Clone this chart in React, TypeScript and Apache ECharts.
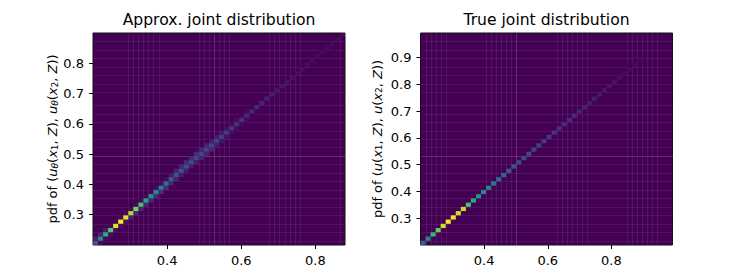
import React, { useEffect, useRef } from "react";
import * as echarts from "echarts";

const BIN_COUNT = 50;
const approxDiag = [.25,.45,.62,.74,.95,1,.95,.87,.8,.7,.6,.5,.47,.42,.36,.3,.27,.25,.25,.24,.22,.2,.2,.2,.19,.18,.17,.15,.14,.13,.12,.11,.11,.09,.08,.07,.06,.06,.05,.05,.04,.04,.04,.035,.03,.03,.03,.03,.03,.02];
const approxLower = [.02,.03,.04,.04,.04,.05,.08,.1,.1,.1,.1,.12,.13,.13,.1,.09,.07,.07,.07,.08,.1,.1,.1,.07,.05,.04,.03,.03,.02,.02,.01,.01];
const approxUpper = [.08,.1,.08,.03,.02,.02,.02,.02,.02,.02,.02,.02,.03,.03,.03,.07,.1,.1,.12,.12,.12,.1,.1,.08,.08,.07,.04,.03,.03,.02,.02,.01];
const trueDiag = [.3,.45,.65,.78,.93,1,.98,.92,.9,.7,.62,.5,.47,.43,.38,.35,.32,.28,.26,.23,.22,.2,.19,.18,.17,.16,.15,.14,.13,.12,.11,.1,.09,.08,.08,.07,.06,.05,.05,.04,.03,.03,.02,.02];
const viridis = ["#440154","#482475","#414487","#355f8d","#2a788e","#21918c","#22a884","#44bf70","#7ad151","#bddf26","#fde725"];

const approxSeamX = [7,8,9,10,11,12,13,21,22,23,24,25,26,27,35,36,37,38,39,40,41,49];
const trueSeamX = [1,2,3,4,5,13,14,15,16,17,18,19,27,28,29,30,31,32,33,41,42,43,44,45,46,47];
const seamY = [1,3,5,7,9,11,13,15,17,19,21,23,25,27,29,31,33,36,38,40,42,44,46,48];
const approxStrongX = 24;
const trueStrongX = 19;
const strongY = 21;

const approxRange = { xMin: 0.2, xMax: 0.88, yMin: 0.2, yMax: 0.9 };
const trueRange = { xMin: 0.2, xMax: 0.992, yMin: 0.2, yMax: 0.992 };
const approxXTicks = [0.4, 0.6, 0.8];
const approxYTicks = [0.3, 0.4, 0.5, 0.6, 0.7, 0.8];
const trueXTicks = [0.4, 0.6, 0.8];
const trueYTicks = [0.3, 0.4, 0.5, 0.6, 0.7, 0.8, 0.9];
const titles = ["Approx. joint distribution", "True joint distribution"];
const FONT = "DejaVu Sans";

const richStyles = {
  i: { fontStyle: "italic", fontFamily: FONT, fontSize: 13, color: "#000" },
  s: { fontStyle: "italic", fontFamily: FONT, fontSize: 9, color: "#000", verticalAlign: "bottom", lineHeight: 10 },
  n: { fontFamily: FONT, fontSize: 9, color: "#000", verticalAlign: "bottom", lineHeight: 10 },
  r: { fontFamily: FONT, fontSize: 13, color: "#000" },
};
const approxLabel = "{r|pdf of (}{i|u}{s|θ}{r|(}{i|x}{n|1}{r|, }{i|Z}{r|), }{i|u}{s|θ}{r|(}{i|x}{n|2}{r|, }{i|Z}{r|))}";
const trueLabel = "{r|pdf of (}{i|u}{r|(}{i|x}{n|1}{r|, }{i|Z}{r|), }{i|u}{r|(}{i|x}{n|2}{r|, }{i|Z}{r|))}";

type Range = typeof approxRange;

function cells(r: Range, diag: number[], lower: number[], upper: number[]) {
  const dx = (r.xMax - r.xMin) / BIN_COUNT;
  const dy = (r.yMax - r.yMin) / BIN_COUNT;
  const cell = (i: number, j: number, v: number) => [
    r.xMin + i * dx, r.yMin + j * dy, r.xMin + (i + 1) * dx, r.yMin + (j + 1) * dy, v,
  ];
  const out: number[][] = [];
  lower.forEach((v, i) => out.push(cell(i + 1, i, v)));
  upper.forEach((v, i) => out.push(cell(i, i + 1, v)));
  diag.forEach((v, i) => out.push(cell(i, i, v)));
  return out;
}

function cellSeries(data: number[][], axis: number) {
  return {
    type: "custom",
    xAxisIndex: axis,
    yAxisIndex: axis,
    silent: true,
    clip: true,
    encode: { x: [0, 2], y: [1, 3] },
    data,
    renderItem: (_: any, api: any) => {
      const a = api.coord([api.value(0), api.value(1)]);
      const b = api.coord([api.value(2), api.value(3)]);
      return {
        type: "rect",
        shape: { x: a[0], y: b[1], width: b[0] - a[0], height: a[1] - b[1] },
        style: { fill: api.visual("color") },
      };
    },
  };
}

function seamSeries(r: Range, xs: number[], ys: number[], strongXEdge: number, axis: number) {
  const data: number[][] = [];
  xs.forEach((k) => data.push([r.xMin + (k * (r.xMax - r.xMin)) / BIN_COUNT, r.yMin, r.xMin + (k * (r.xMax - r.xMin)) / BIN_COUNT, r.yMax, k === strongXEdge ? 1 : 0]));
  ys.forEach((k) => data.push([r.xMin, r.yMin + (k * (r.yMax - r.yMin)) / BIN_COUNT, r.xMax, r.yMin + (k * (r.yMax - r.yMin)) / BIN_COUNT, k === strongY ? 1 : 0]));
  return {
    type: "custom",
    xAxisIndex: axis,
    yAxisIndex: axis,
    silent: true,
    clip: true,
    encode: { x: [0, 2], y: [1, 3] },
    data,
    renderItem: (_: any, api: any) => {
      const a = api.coord([api.value(0), api.value(1)]);
      const b = api.coord([api.value(2), api.value(3)]);
      return {
        type: "line",
        shape: { x1: Math.round(a[0]) + 0.5, y1: Math.round(a[1]) + 0.5, x2: Math.round(b[0]) + 0.5, y2: Math.round(b[1]) + 0.5 },
        style: { stroke: api.value(4) ? "rgba(190,150,205,0.28)" : "rgba(190,150,205,0.12)", lineWidth: 1 },
      };
    },
  };
}

function xAxis(r: Range, ticks: number[], gridIndex: number) {
  return {
    type: "value", gridIndex, min: r.xMin, max: r.xMax, splitLine: { show: false },
    axisLine: { show: false },
    axisTick: { show: true, length: 4, customValues: ticks, lineStyle: { color: "#000", width: 1 } },
    axisLabel: { show: true, customValues: ticks, color: "#000", fontFamily: FONT, fontSize: 13, margin: 9, formatter: (v: number) => v.toFixed(1) },
  };
}

function yAxis(r: Range, ticks: number[], gridIndex: number, name: string, gap: number) {
  return {
    type: "value", gridIndex, min: r.yMin, max: r.yMax, splitLine: { show: false },
    axisLine: { show: false },
    name, nameLocation: "middle", nameRotate: 90, nameGap: gap,
    nameTextStyle: { rich: richStyles, color: "#000", fontFamily: FONT, fontSize: 13 },
    axisTick: { show: true, length: 4, customValues: ticks, lineStyle: { color: "#000", width: 1 } },
    axisLabel: { show: true, customValues: ticks, color: "#000", fontFamily: FONT, fontSize: 13, margin: 9, formatter: (v: number) => v.toFixed(1) },
  };
}

export default function App() {
  const ref = useRef<HTMLDivElement>(null);
  useEffect(() => {
    const chart = echarts.init(ref.current!, undefined, { renderer: "svg" });
    const gridBase = { show: true, backgroundColor: "#440154", borderColor: "#111", borderWidth: 1, top: 33, height: 212 };
    const titleStyle = { color: "#000", fontFamily: FONT, fontSize: 15.6, fontWeight: "normal" as const };
    chart.setOption({
      animation: false,
      backgroundColor: "#fff",
      title: [
        { text: titles[0], left: 219, top: 12, textAlign: "center", textStyle: titleStyle, padding: 0 },
        { text: titles[1], left: 546.5, top: 12, textAlign: "center", textStyle: titleStyle, padding: 0 },
      ],
      grid: [
        { ...gridBase, left: 93, width: 252 },
        { ...gridBase, left: 420.5, width: 252 },
      ],
      visualMap: { show: false, type: "continuous", min: 0, max: 1, dimension: 4, seriesIndex: [1, 3], inRange: { color: viridis } },
      xAxis: [xAxis(approxRange, approxXTicks, 0), xAxis(trueRange, trueXTicks, 1)],
      yAxis: [yAxis(approxRange, approxYTicks, 0, approxLabel, 34), yAxis(trueRange, trueYTicks, 1, trueLabel, 37)],
      series: [
        seamSeries(approxRange, approxSeamX, seamY, approxStrongX, 0),
        cellSeries(cells(approxRange, approxDiag, approxLower, approxUpper), 0),
        seamSeries(trueRange, trueSeamX, seamY, trueStrongX, 1),
        cellSeries(cells(trueRange, trueDiag, [], []), 1),
      ],
    });
    return () => chart.dispose();
  }, []);
  return <div ref={ref} style={{ position: "absolute", left: 0, top: 0, width: 747, height: 280 }} />;
}
